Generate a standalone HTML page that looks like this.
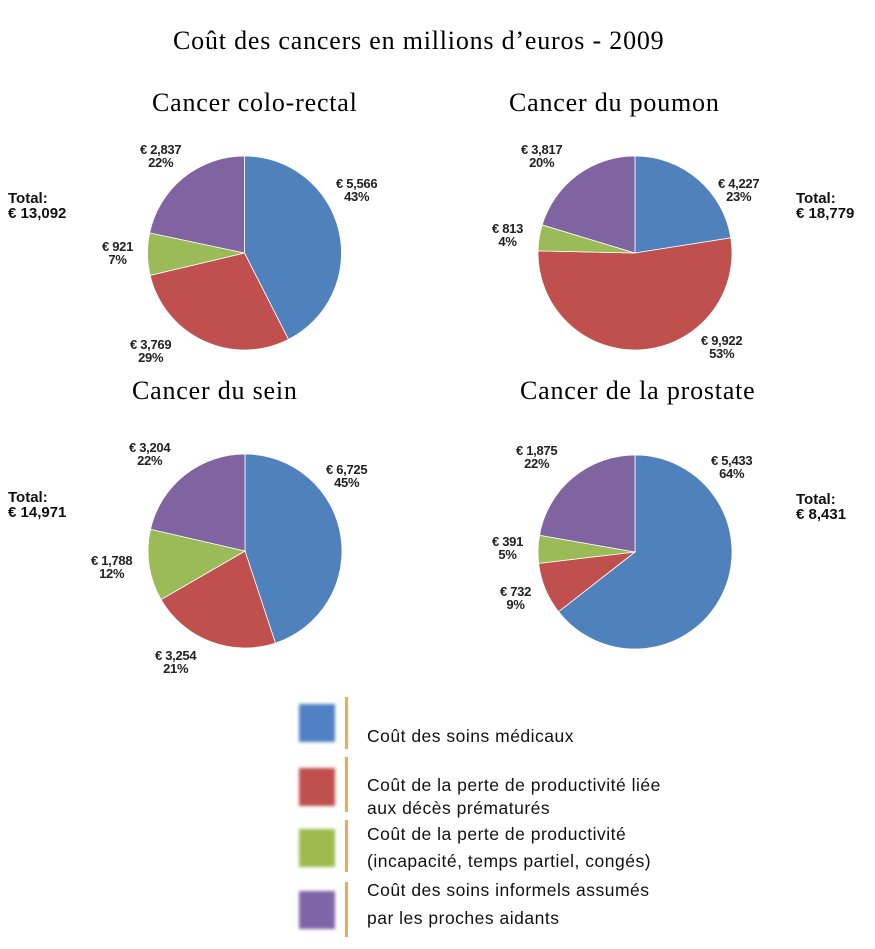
<!DOCTYPE html>
<html><head><meta charset="utf-8">
<style>
html,body{margin:0;padding:0;background:#fff;}
body{width:875px;height:949px;position:relative;overflow:hidden;}
.t{position:absolute;font-family:"Liberation Serif",serif;font-size:26px;letter-spacing:0.8px;color:#000;white-space:nowrap;}
.l{position:absolute;font-family:"Liberation Sans",sans-serif;font-size:13px;font-weight:bold;color:#222;line-height:13px;text-align:center;white-space:nowrap;letter-spacing:-0.3px;}
.tot{position:absolute;font-family:"Liberation Sans",sans-serif;font-size:15px;font-weight:bold;color:#111;line-height:15px;white-space:nowrap;}
.lg{position:absolute;font-family:"Liberation Sans",sans-serif;font-size:17.5px;letter-spacing:0.5px;color:#111;white-space:nowrap;}
.sq{position:absolute;width:36px;height:38px;filter:blur(1.5px);}
.bar{position:absolute;width:3px;background:#e8a868;}
</style></head><body>
<div class="t" style="left:173px;top:26px;">Coût des cancers en millions d’euros - 2009</div>
<div class="t" style="left:152px;top:88px;">Cancer colo-rectal</div>
<div class="t" style="left:509px;top:88px;">Cancer du poumon</div>
<div class="t" style="left:132px;top:376px;">Cancer du sein</div>
<div class="t" style="left:520px;top:376px;">Cancer de la prostate</div>

<svg id="s" width="875" height="949" style="position:absolute;left:0;top:0;"></svg>

<div class="tot" style="left:8px;top:191px;">Total:<br>€ 13,092</div>
<div class="l" style="left:140px;top:143px;">€ 2,837<br>22%</div>
<div class="l" style="left:336px;top:177px;">€ 5,566<br>43%</div>
<div class="l" style="left:102px;top:240px;">€ 921<br>7%</div>
<div class="l" style="left:130px;top:338px;">€ 3,769<br>29%</div>

<div class="tot" style="left:796px;top:191px;">Total:<br>€ 18,779</div>
<div class="l" style="left:521px;top:143px;">€ 3,817<br>20%</div>
<div class="l" style="left:718px;top:177px;">€ 4,227<br>23%</div>
<div class="l" style="left:492px;top:222px;">€ 813<br>4%</div>
<div class="l" style="left:701px;top:334px;">€ 9,922<br>53%</div>

<div class="tot" style="left:8px;top:490px;">Total:<br>€ 14,971</div>
<div class="l" style="left:129px;top:441px;">€ 3,204<br>22%</div>
<div class="l" style="left:326px;top:463px;">€ 6,725<br>45%</div>
<div class="l" style="left:91px;top:554px;">€ 1,788<br>12%</div>
<div class="l" style="left:155px;top:649px;">€ 3,254<br>21%</div>

<div class="tot" style="left:796px;top:492px;">Total:<br>€ 8,431</div>
<div class="l" style="left:516px;top:444px;">€ 1,875<br>22%</div>
<div class="l" style="left:711px;top:454px;">€ 5,433<br>64%</div>
<div class="l" style="left:492px;top:535px;">€ 391<br>5%</div>
<div class="l" style="left:500px;top:585px;">€ 732<br>9%</div>

<div class="sq" style="left:299px;top:704px;background:#4f81c4;"></div>
<div class="sq" style="left:299px;top:768px;background:#c0504d;"></div>
<div class="sq" style="left:299px;top:829px;background:#9bbb4f;"></div>
<div class="sq" style="left:299px;top:891px;background:#8064a8;"></div>
<div class="bar" style="left:345px;top:697px;height:52px;"></div>
<div class="bar" style="left:345px;top:757px;height:55px;"></div>
<div class="bar" style="left:345px;top:820px;height:52px;"></div>
<div class="bar" style="left:345px;top:882px;height:55px;"></div>
<div class="lg" style="left:367px;top:726px;">Coût des soins médicaux</div>
<div class="lg" style="left:367px;top:775px;">Coût de la perte de productivité liée</div>
<div class="lg" style="left:367px;top:798px;">aux décès prématurés</div>
<div class="lg" style="left:367px;top:824px;">Coût de la perte de productivité</div>
<div class="lg" style="left:367px;top:851px;">(incapacité, temps partiel, congés)</div>
<div class="lg" style="left:367px;top:880px;">Coût des soins informels assumés</div>
<div class="lg" style="left:367px;top:908px;">par les proches aidants</div>

<script>
var cols=["#4f81bd","#c0504d","#9bbb59","#8064a2"];
var pies=[[244.5,253,[5566,3769,921,2837]],[635,253,[4227,9922,813,3817]],[245,551,[6725,3254,1788,3204]],[635,552,[5433,732,391,1875]]];
var r=97,h="";
pies.forEach(function(p){
 var cx=p[0],cy=p[1],v=p[2],tot=v.reduce(function(a,b){return a+b},0),a=0;
 v.forEach(function(x,i){
  var a2=a+x/tot*2*Math.PI;
  var x1=cx+r*Math.sin(a),y1=cy-r*Math.cos(a),x2=cx+r*Math.sin(a2),y2=cy-r*Math.cos(a2);
  var lg=(a2-a)>Math.PI?1:0;
  h+='<path d="M'+cx+','+cy+' L'+x1+','+y1+' A'+r+','+r+' 0 '+lg+' 1 '+x2+','+y2+' Z" fill="'+cols[i]+'" stroke="#fff" stroke-width="0.8"/>';
  a=a2;
 });
});
document.getElementById("s").innerHTML=h;
</script>
</body></html>
